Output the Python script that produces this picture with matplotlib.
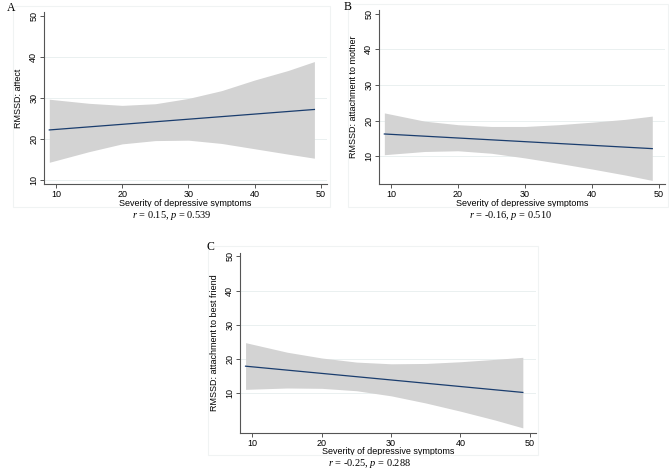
import numpy as np
import matplotlib.pyplot as plt
from matplotlib.patches import Rectangle

plt.rcParams['font.family'] = 'Liberation Sans'
plt.rcParams['mathtext.fontset'] = 'custom'
plt.rcParams['mathtext.it'] = 'Liberation Serif:italic'
plt.rcParams['mathtext.rm'] = 'Liberation Serif'

# fitted line and 95% CI
x_line = [9, 49]
x_band = [9, 15, 20, 25, 30, 35, 40, 45, 49]

fit_a = [22.2, 27.2]
upper_a = [29.7, 28.7, 28.2, 28.6, 29.9, 31.8, 34.4, 36.7, 38.9]
lower_a = [14.3, 16.9, 18.8, 19.6, 19.7, 18.9, 17.6, 16.3, 15.3]

fit_b = [16.3, 12.2]
upper_b = [22.2, 19.9, 18.9, 18.4, 18.4, 18.9, 19.6, 20.4, 21.3]
lower_b = [10.5, 11.4, 11.6, 10.9, 9.6, 8.1, 6.5, 4.8, 3.3]

fit_c = [17.8, 10.1]
upper_c = [24.7, 21.9, 20.2, 19.0, 18.5, 18.6, 19.1, 19.8, 20.4]
lower_c = [11.0, 11.4, 11.3, 10.6, 9.1, 7.0, 4.6, 2.0, -0.3]

x_ticks = [10, 20, 30, 40, 50]
y_ticks = [10, 20, 30, 40, 50]

panels = [
    ('A', 'RMSSD: affect', fit_a, upper_a, lower_a, (9.0, 51), r'$r$ = 0.15, $p$ = 0.539'),
    ('B', 'RMSSD: attachment to mother', fit_b, upper_b, lower_b, (2.3, 51), r'$r$ = -0.16, $p$ = 0.510'),
    ('C', 'RMSSD: attachment to best friend', fit_c, upper_c, lower_c, (-1.8, 51), r'$r$ = -0.25, $p$ = 0.288'),
]

W, H = 669, 472
fig = plt.figure(figsize=(W / 100, H / 100), dpi=100)
fig.patch.set_facecolor('white')

# pixel boxes: left, top, right, bottom
boxes = [(44, 12, 327, 184), (379, 10, 665, 184), (240, 253, 536, 433)]
letter_pos = [(11, 8), (348, 7), (210, 247)]
caption_pos = [(172, 216), (511, 216), (370, 463)]
frames = [(13, 6, 330, 207), (348, 4, 668, 207), (208, 246, 538, 455)]

for (letter, ylab, fit, up, lo, ylim, cap), (l, t, r, b), (lx, ly), (cx, cy), fr in zip(
        panels, boxes, letter_pos, caption_pos, frames):
    # faint graph region outline
    fig.patches.append(Rectangle((fr[0] / W, 1 - fr[3] / H), (fr[2] - fr[0]) / W, (fr[3] - fr[1]) / H,
                                 transform=fig.transFigure, fill=False, edgecolor='#f0f3f3', linewidth=0.8))
    ax = fig.add_axes([l / W, 1 - b / H, (r - l) / W, (b - t) / H])
    ax.fill_between(x_band, lo, up, color='#d3d3d3', linewidth=0)
    ax.plot(x_line, fit, color='#1a3d6e', linewidth=0.9)
    for g in [10, 20, 30, 40]:
        ax.axhline(g, color='#eaf0f0', linewidth=0.7, zorder=0)
    ax.set_xlim(8.2, 50.9)
    ax.set_ylim(*ylim)
    ax.set_xticks(x_ticks)
    ax.set_yticks(y_ticks)
    ax.tick_params(axis='both', labelsize=6.5, length=2.6, width=0.7, color='#555555', pad=1.5)
    for lab in ax.get_yticklabels():
        lab.set_rotation(90)
        lab.set_va('center')
    ax.spines['top'].set_visible(False)
    ax.spines['right'].set_visible(False)
    for s in ['left', 'bottom']:
        ax.spines[s].set_color('#555555')
        ax.spines[s].set_linewidth(0.8)
    ax.set_ylabel(ylab, fontsize=6.5)
    ax.yaxis.set_label_coords(-21 / (r - l), 0.5)
    ax.set_xlabel('Severity of depressive symptoms', fontsize=6.5, va='center')
    ax.xaxis.set_label_coords(0.5, -19 / (b - t))
    fig.text(lx / W, 1 - ly / H, letter, fontsize=8.5, family='Liberation Serif', ha='center', va='center')
    fig.text(cx / W, 1 - cy / H, cap, fontsize=7.5, family='Liberation Serif', ha='center', va='center')

fig.savefig('out.png', dpi=100)
